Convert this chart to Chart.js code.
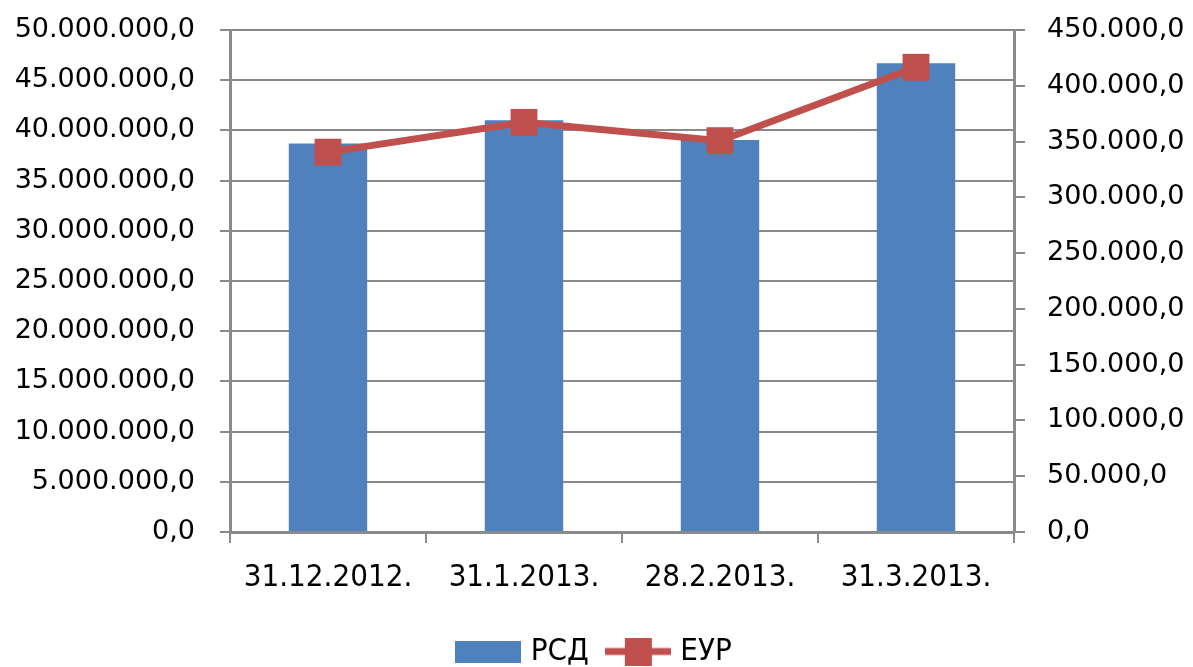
<!DOCTYPE html>
<html lang="sr">
<head>
  <meta charset="UTF-8" />
  <title>РСД / ЕУР</title>
  <style>
    body { margin: 0; padding: 0; background: #fff; }
    #wrap { width: 1193px; height: 667px; }
  </style>
</head>
<body>
  <div id="wrap"><canvas id="chart"></canvas></div>

  <script src="https://cdn.jsdelivr.net/npm/chart.js"></script>
  <script>
    const dates = ["31.12.2012.", "31.1.2013.", "28.2.2013.", "31.3.2013."];
    const rsd = [38700000, 41000000, 39050000, 46700000];
    const eur = [340500, 367200, 350800, 416600];
    const seriesNames = ["РСД", "ЕУР"];

    const blue = "#4F81BD";
    const red = "#C0504D";
    const gridGray = "#8a8a8a";
    const labelFont = "'Liberation Sans Narrow', 'DejaVu Sans Condensed', sans-serif";
    const tickFont = "'DejaVu Sans', sans-serif";

    // 1234567.5 -> "1.234.567,5"
    function fmt(v) {
      const parts = Math.abs(v).toFixed(1).split(".");
      const int = parts[0].replace(/\B(?=(\d{3})+(?!\d))/g, ".");
      return (v < 0 ? "-" : "") + int + "," + parts[1];
    }

    // legend swatches
    function swatchBar() {
      const c = document.createElement("canvas");
      c.width = 66; c.height = 22;
      const g = c.getContext("2d");
      g.fillStyle = blue;
      g.fillRect(0, 0, 66, 22);
      return c;
    }
    function swatchLine() {
      const c = document.createElement("canvas");
      c.width = 66; c.height = 28;
      const g = c.getContext("2d");
      g.strokeStyle = red;
      g.lineWidth = 7;
      g.beginPath(); g.moveTo(0, 14); g.lineTo(66, 14); g.stroke();
      g.fillStyle = red;
      g.fillRect(20, 0, 27, 28);
      return c;
    }
    const swatches = [swatchBar(), swatchLine()];

    // vertical axes: keep the plot top where the original has it
    function fitY(width) {
      return (scale) => {
        scale.width = width;
        scale.paddingTop = 30;
        scale.paddingBottom = 0;
      };
    }

    const ctx = document.getElementById("chart").getContext("2d");
    new Chart(ctx, {
      data: {
        labels: dates,
        datasets: [
          {
            type: "line",
            label: seriesNames[1],
            data: eur,
            yAxisID: "y1",
            borderColor: red,
            backgroundColor: red,
            borderWidth: 7,
            pointStyle: "rect",
            pointRadius: 19,
            pointHoverRadius: 19,
            pointBorderWidth: 0,
            tension: 0,
            order: 0
          },
          {
            type: "bar",
            label: seriesNames[0],
            data: rsd,
            yAxisID: "y",
            backgroundColor: blue,
            categoryPercentage: 1,
            barPercentage: 0.4,
            order: 1
          }
        ]
      },
      options: {
        responsive: true,
        maintainAspectRatio: false,
        animation: false,
        layout: { autoPadding: false, padding: { top: 0, left: 0, right: 0, bottom: -10 } },
        plugins: {
          tooltip: { enabled: false },
          legend: {
            position: "bottom",
            reverse: true,
            labels: {
              usePointStyle: true,
              pointStyleWidth: 54,
              boxHeight: 22,
              padding: 22,
              color: "#000",
              font: { family: labelFont, size: 31 },
              generateLabels(chart) {
                return chart.data.datasets.map((ds, i) => ({
                  text: ds.label,
                  datasetIndex: i,
                  pointStyle: i === 0 ? swatches[1] : swatches[0],
                  fillStyle: ds.backgroundColor,
                  strokeStyle: ds.backgroundColor,
                  lineWidth: 0,
                  fontColor: "#000",
                  hidden: false
                }));
              }
            }
          }
        },
        scales: {
          x: {
            offset: true,
            grid: {
              offset: true,
              drawOnChartArea: false,
              color: gridGray,
              lineWidth: 2,
              tickLength: 11
            },
            border: { color: gridGray, width: 3 },
            ticks: {
              color: "#000",
              padding: 16,
              maxRotation: 0,
              font: { family: labelFont, size: 31 }
            },
            afterFit(scale) { scale.height = 82; }
          },
          y: {
            position: "left",
            min: 0,
            max: 50000000,
            ticks: {
              stepSize: 5000000,
              color: "#000",
              padding: 25,
              font: { family: tickFont, size: 27 },
              callback: (v) => fmt(v)
            },
            grid: { color: gridGray, lineWidth: 2, tickLength: 10 },
            border: { color: gridGray, width: 3 },
            afterFit: fitY(230)
          },
          y1: {
            position: "right",
            min: 0,
            max: 450000,
            ticks: {
              stepSize: 50000,
              color: "#000",
              padding: 22,
              font: { family: tickFont, size: 27 },
              callback: (v) => fmt(v)
            },
            grid: { drawOnChartArea: false, color: gridGray, lineWidth: 2, tickLength: 11 },
            border: { color: gridGray, width: 3 },
            afterFit: fitY(179)
          }
        }
      }
    });
  </script>
</body>
</html>
